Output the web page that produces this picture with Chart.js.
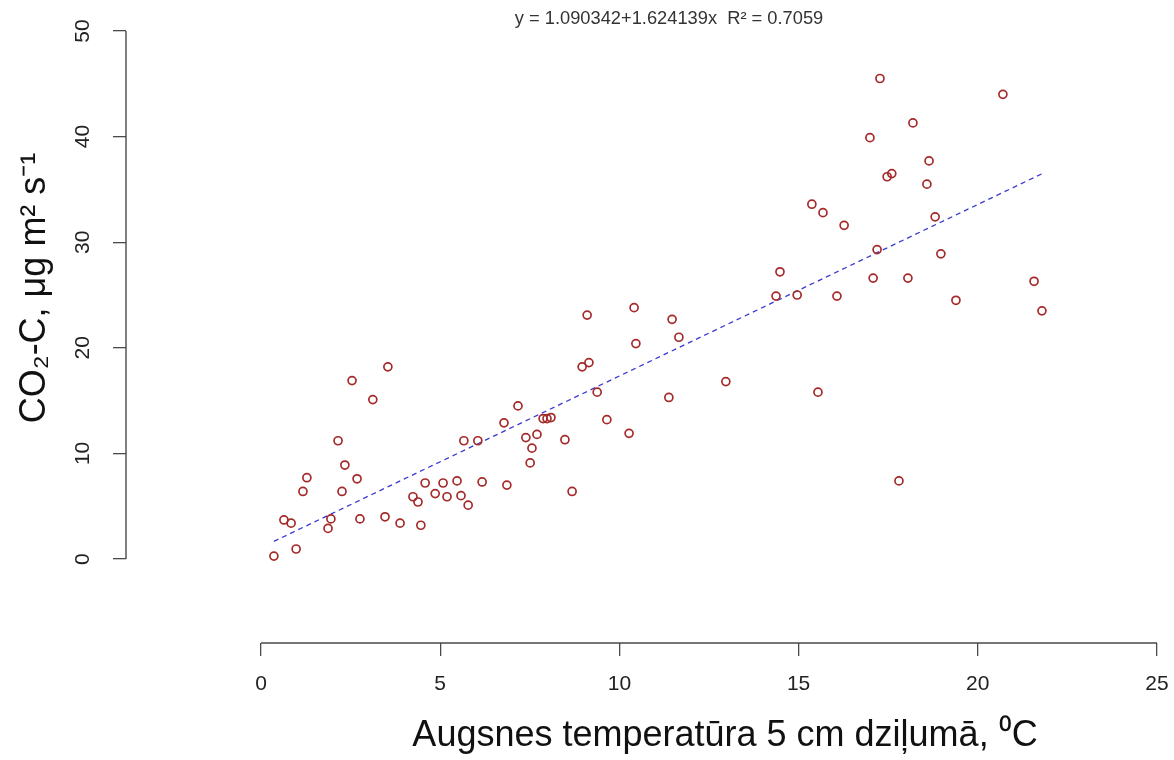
<!DOCTYPE html>
<html>
<head>
<meta charset="utf-8">
<style>
  html, body { margin: 0; padding: 0; background: #fff; }
  #wrap { width: 1174px; height: 760px; }
</style>
<script src="https://cdn.jsdelivr.net/npm/chart.js@4/dist/chart.umd.min.js"></script>
</head>
<body>
<div id="wrap"><canvas id="chart"></canvas></div>
<script>
// soil temperature at 5 cm (x) and CO2-C flux (y)
const temperature = [0.36, 0.64, 0.84, 0.98, 1.17, 1.28, 1.87, 1.95, 2.15, 2.26,
  2.34, 2.54, 2.68, 2.76, 3.12, 3.46, 3.54, 3.88, 4.24, 4.38,
  4.46, 4.58, 4.86, 5.08, 5.19, 5.47, 5.58, 5.66, 5.78, 6.05,
  6.17, 6.78, 6.86, 7.17, 7.39, 7.51, 7.56, 7.7, 7.87, 7.98,
  8.09, 8.48, 8.68, 8.96, 9.1, 9.15, 9.38, 9.65, 10.27, 10.41,
  10.46, 11.38, 11.47, 11.66, 12.97, 14.37, 14.48, 14.96, 15.37, 15.54,
  15.68, 16.07, 16.27, 16.99, 17.08, 17.19, 17.27, 17.47, 17.6, 17.8,
  18.05, 18.19, 18.58, 18.64, 18.81, 18.97, 19.39, 20.7, 21.57, 21.79];
const co2 = [0.28, 3.7, 3.4, 0.95, 6.4, 7.7, 2.9, 3.8, 11.2, 6.4,
  8.9, 16.9, 7.6, 3.8, 15.1, 4.0, 18.2, 3.4, 5.9, 5.4,
  3.2, 7.2, 6.2, 7.2, 5.9, 7.4, 6.0, 11.2, 5.1, 11.2,
  7.3, 12.9, 7.0, 14.5, 11.5, 9.1, 10.5, 11.8, 13.3, 13.3,
  13.4, 11.3, 6.4, 18.2, 23.1, 18.6, 15.8, 13.2, 11.9, 23.8,
  20.4, 15.3, 22.7, 21.0, 16.8, 24.9, 27.2, 25.0, 33.6, 15.8,
  32.8, 24.9, 31.6, 39.9, 26.6, 29.3, 45.5, 36.2, 36.5, 7.4,
  26.6, 41.3, 35.5, 37.7, 32.4, 28.9, 24.5, 44.0, 26.3, 23.5];

// fitted model from the figure
const intercept = 1.090342;
const slope = 1.624139;
const rSquared = 0.7059;

const xTicks = [0, 5, 10, 15, 20, 25];
const yTicks = [0, 10, 20, 30, 40, 50];

const eqText = 'y = ' + intercept + '+' + slope + 'x  R\u00B2 = ' + rSquared;
const xTitle = 'Augsnes temperatūra 5 cm dziļumā, \u2070C';
const yTitle = 'CO\u2082-C, \u03BCg m\u00B2 s\u207B\u00B9';

const points = temperature.map((t, i) => ({ x: t, y: co2[i] }));
const xMin = Math.min(...temperature);
const xMax = Math.max(...temperature);
const fitLine = [xMin, xMax].map(x => ({ x, y: intercept + slope * x }));

const FONT = '"Liberation Sans", Arial, sans-serif';
Chart.defaults.font.family = FONT;

// R-style axes: lines only between the first and last tick, plus titles
const rAxes = {
  id: 'rAxes',
  afterDraw(chart) {
    const { ctx, scales: { x, y } } = chart;
    const xb = chart.chartArea.bottom;
    const yl = chart.chartArea.left;
    ctx.save();
    ctx.strokeStyle = '#4a4a4a';
    ctx.lineWidth = 1.4;
    ctx.beginPath();
    ctx.moveTo(x.getPixelForValue(xTicks[0]), xb);
    ctx.lineTo(x.getPixelForValue(xTicks[xTicks.length - 1]), xb);
    ctx.moveTo(yl, y.getPixelForValue(yTicks[0]));
    ctx.lineTo(yl, y.getPixelForValue(yTicks[yTicks.length - 1]));
    ctx.stroke();

    ctx.fillStyle = '#111';
    ctx.textAlign = 'center';
    ctx.textBaseline = 'middle';
    ctx.font = '36px ' + FONT;
    ctx.fillText(xTitle, 725, 736);
    ctx.save();
    ctx.translate(35, 288);
    ctx.rotate(-Math.PI / 2);
    ctx.fillText(yTitle, 0, 0);
    ctx.restore();

    ctx.fillStyle = '#333';
    ctx.font = '18.3px ' + FONT;
    ctx.fillText(eqText, 669, 19);
    ctx.restore();
  }
};

new Chart(document.getElementById('chart'), {
  type: 'scatter',
  data: {
    datasets: [{
      label: 'observations',
      data: points,
      pointStyle: 'circle',
      pointRadius: 4,
      pointBorderWidth: 1.7,
      borderColor: '#a52a2a',
      backgroundColor: 'rgba(0,0,0,0)'
    }, {
      type: 'line',
      label: 'fit',
      data: fitLine,
      borderColor: '#3a3ad0',
      borderWidth: 1.3,
      borderDash: [5, 4],
      pointRadius: 0,
      fill: false
    }]
  },
  options: {
    responsive: true,
    maintainAspectRatio: false,
    animation: false,
    layout: { padding: { top: 31, right: 17, left: 0, bottom: 0 } },
    plugins: {
      legend: { display: false },
      title: { display: false },
      tooltip: { enabled: false }
    },
    scales: {
      x: {
        type: 'linear',
        min: -3.767,
        max: 25,
        afterBuildTicks: s => { s.ticks = xTicks.map(v => ({ value: v })); },
        afterFit: s => { s.height = 117; s.paddingLeft = 0; s.paddingRight = 0; },
        border: { display: false },
        grid: { drawOnChartArea: false, drawTicks: true, tickLength: 13, color: '#4a4a4a', lineWidth: 1.3 },
        ticks: { color: '#222', font: { size: 21 }, padding: 16, maxRotation: 0 }
      },
      y: {
        type: 'linear',
        min: -7.95,
        max: 50,
        afterBuildTicks: s => { s.ticks = yTicks.map(v => ({ value: v })); },
        afterFit: s => { s.width = 126; s.paddingTop = 0; s.paddingBottom = 0; },
        border: { display: false },
        grid: { drawOnChartArea: false, drawTicks: true, tickLength: 13, color: '#4a4a4a', lineWidth: 1.3 },
        ticks: { color: '#222', font: { size: 21 }, padding: 18, minRotation: 90, maxRotation: 90, crossAlign: 'center' }
      }
    }
  },
  plugins: [rAxes]
});
</script>
</body>
</html>
